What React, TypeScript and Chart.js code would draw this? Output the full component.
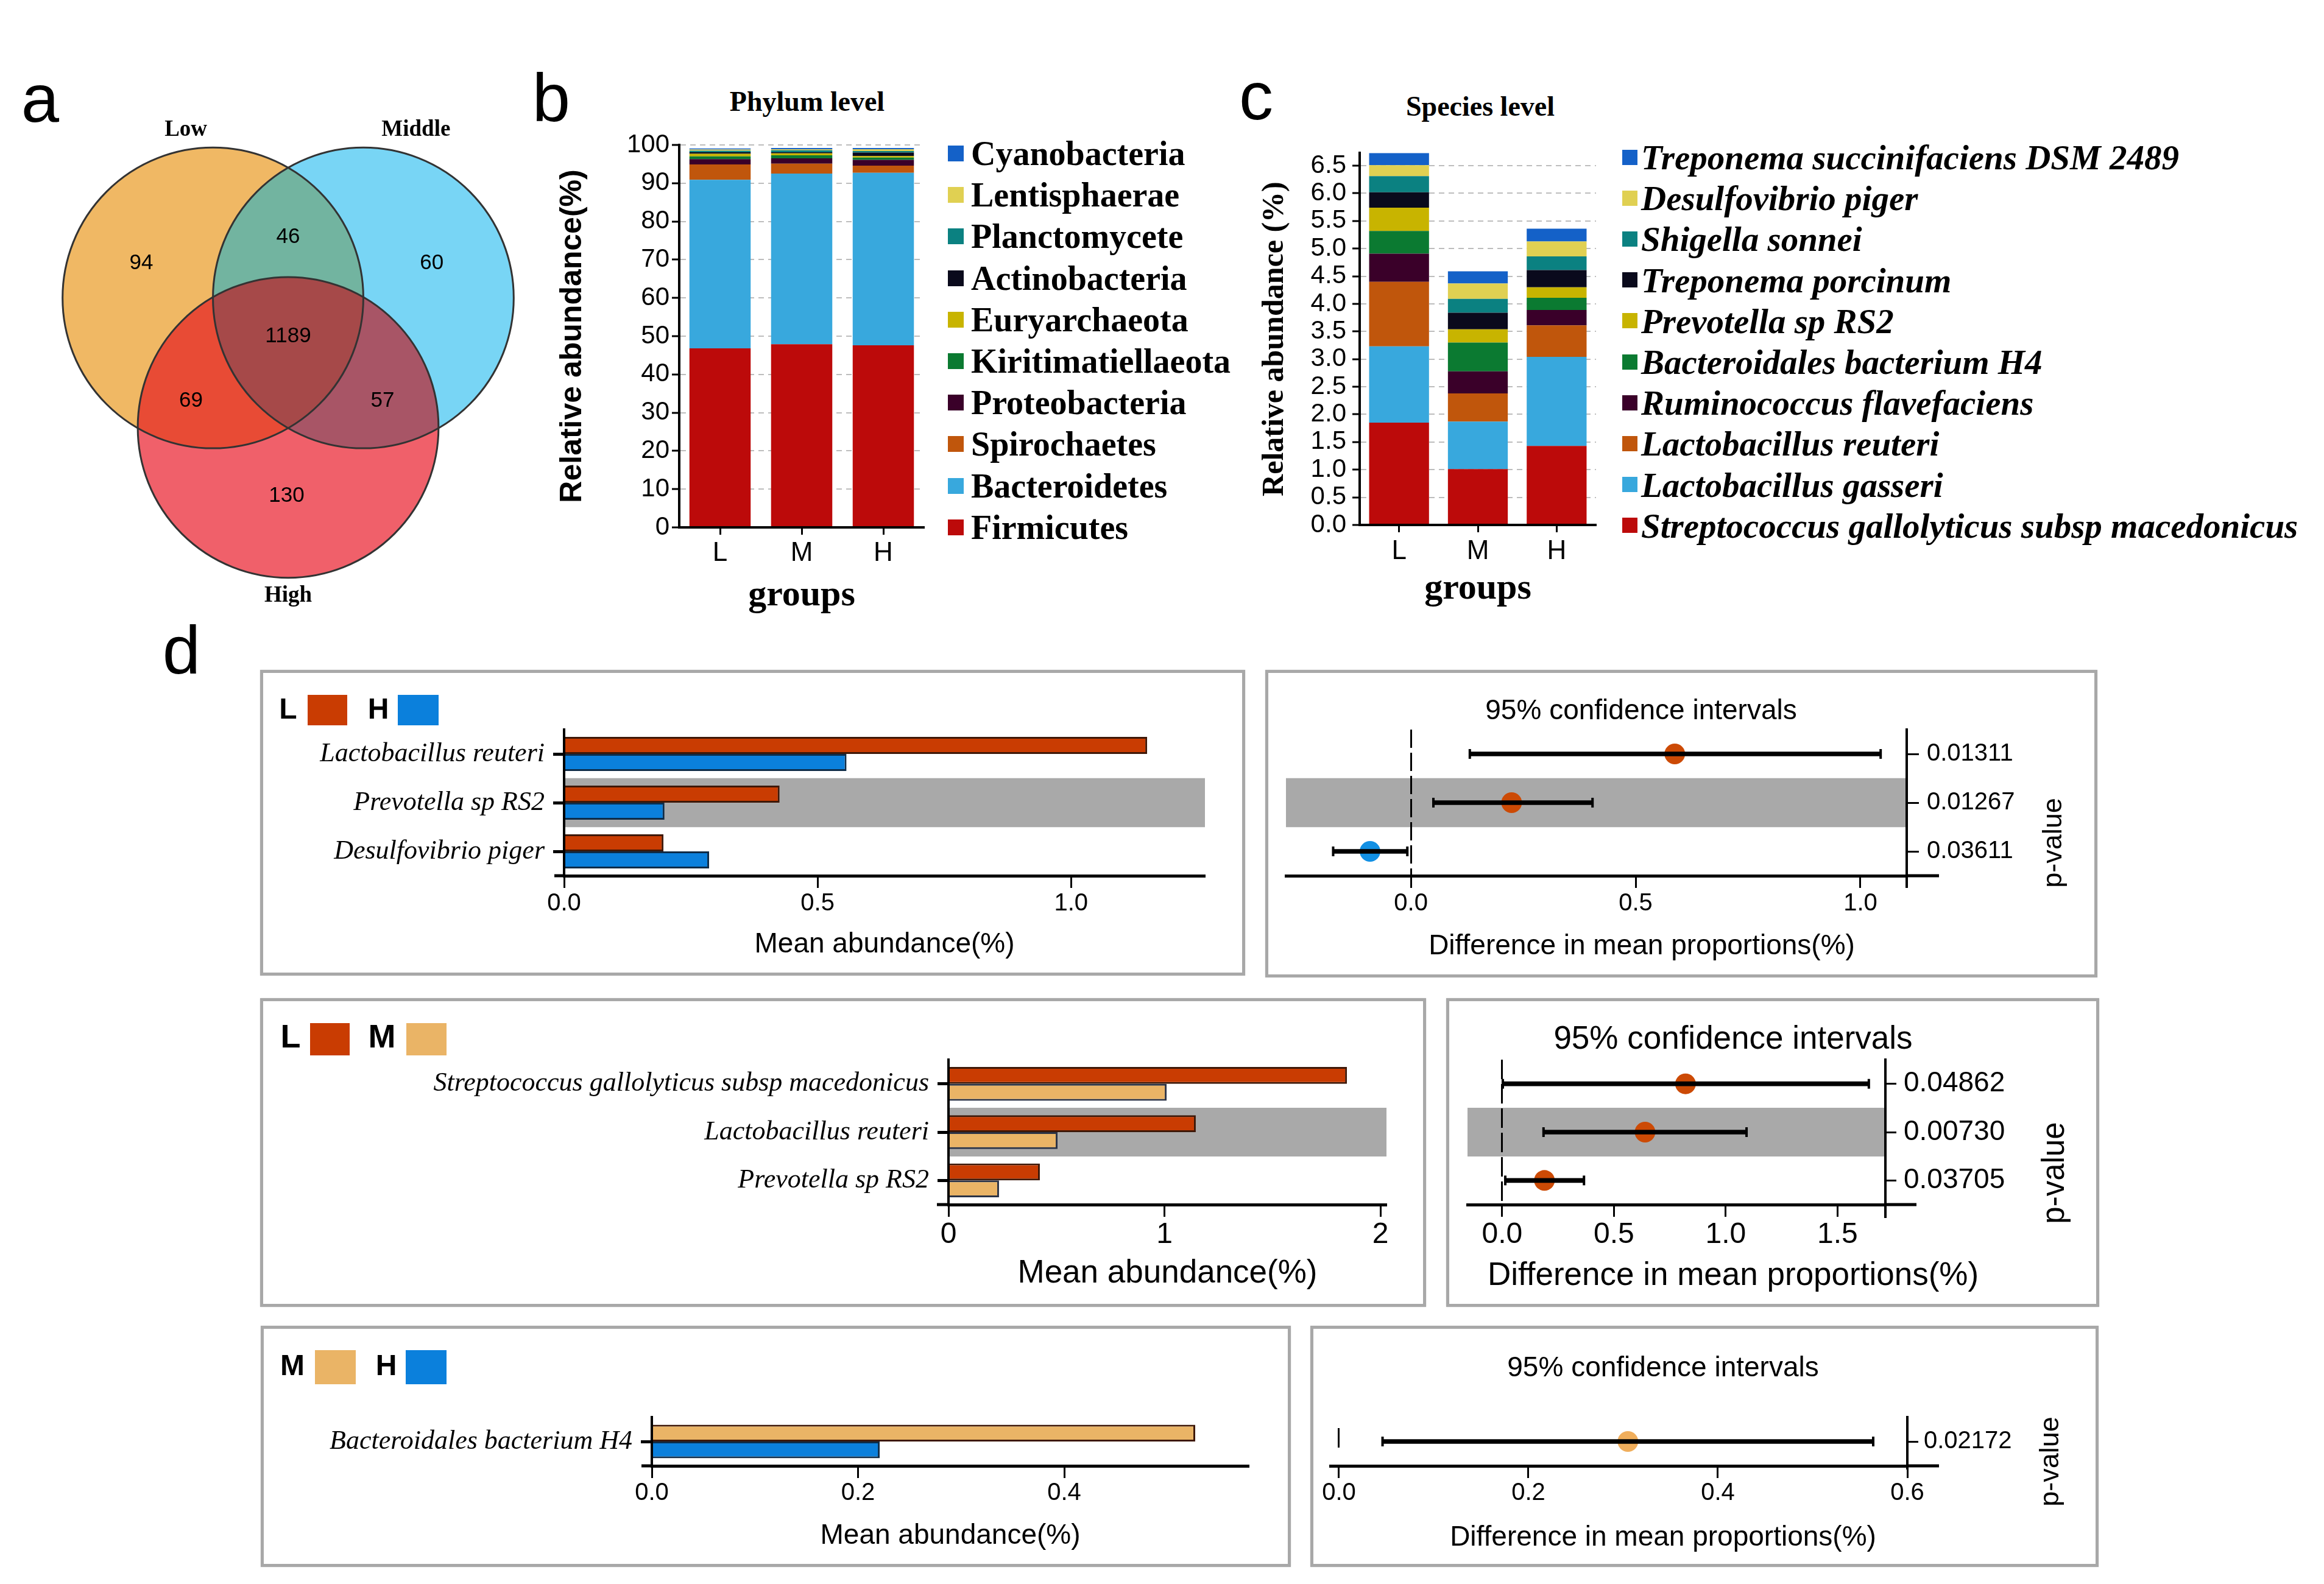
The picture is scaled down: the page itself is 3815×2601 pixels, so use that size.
import React, { useEffect, useRef } from 'react';
import { Chart, registerables } from 'chart.js';

Chart.register(...registerables);

const SANS = "'Liberation Sans', Arial, Helvetica, sans-serif";
const SERIF = "'Liberation Serif', 'Times New Roman', Times, serif";
Chart.defaults.font.family = SANS;
Chart.defaults.color = '#000';

/* ================= DATA ================= */
/* a: Venn diagram */
const vennSetNames = ['Low', 'Middle', 'High'];
const vennRegionNames = ['Low only', 'Middle only', 'High only', 'Low & Middle', 'Low & High', 'Middle & High', 'Low & Middle & High'];
const vennRegionCounts = [94, 60, 130, 46, 69, 57, 1189];

/* b: phylum level (values for L, M, H) */
const groupLabels = ['L', 'M', 'H'];
const phylumNames = ['Firmicutes', 'Bacteroidetes', 'Spirochaetes', 'Proteobacteria', 'Kiritimatiellaeota', 'Euryarchaeota', 'Actinobacteria', 'Planctomycete', 'Lentisphaerae', 'Cyanobacteria'];
const firmicutes = [46.8, 47.9, 47.6];
const bacteroidetes = [44.1, 44.6, 45.1];
const spirochaetes = [4.0, 2.6, 1.9];
const proteobacteria = [1.4, 1.4, 1.5];
const kiritimatiellaeota = [0.7, 0.8, 0.6];
const euryarchaeota = [0.7, 0.5, 0.4];
const actinobacteria = [0.4, 0.3, 0.9];
const planctomycete = [0.4, 0.5, 0.4];
const lentisphaerae = [0.3, 0.3, 0.5];
const cyanobacteria = [0.3, 0.3, 0.3];
const phylumTicks = [0, 10, 20, 30, 40, 50, 60, 70, 80, 90, 100];

/* c: species level (values for L, M, H) */
const speciesNames = ['Streptococcus gallolyticus subsp macedonicus', 'Lactobacillus gasseri', 'Lactobacillus reuteri', 'Ruminococcus flavefaciens', 'Bacteroidales bacterium H4', 'Prevotella sp RS2', 'Treponema porcinum', 'Shigella sonnei', 'Desulfovibrio piger', 'Treponema succinifaciens DSM 2489'];
const sGallolyticus = [1.85, 1.01, 1.43];
const lGasseri = [1.38, 0.86, 1.61];
const lReuteri = [1.17, 0.51, 0.57];
const rFlavefaciens = [0.51, 0.4, 0.28];
const bBacteriumH4 = [0.41, 0.52, 0.22];
const prevotellaRS2 = [0.42, 0.24, 0.19];
const tPorcinum = [0.28, 0.3, 0.31];
const sSonnei = [0.29, 0.25, 0.25];
const dPiger = [0.2, 0.28, 0.27];
const tSuccinifaciens = [0.22, 0.22, 0.23];
const speciesTicks = [0, 0.5, 1, 1.5, 2, 2.5, 3, 3.5, 4, 4.5, 5, 5.5, 6, 6.5];

/* d1: L vs H */
const d1Species = ['Lactobacillus reuteri', 'Prevotella sp RS2', 'Desulfovibrio piger'];
const d1MeanL = [1.15, 0.425, 0.196];
const d1MeanH = [0.557, 0.198, 0.286];
const d1Diff = [0.587, 0.224, -0.091];
const d1CiLow = [0.131, 0.05, -0.173];
const d1CiHigh = [1.045, 0.404, -0.008];
const d1PValues = ['0.01311', '0.01267', '0.03611'];
const d1MeanTicks = [0, 0.5, 1.0];
const d1DiffTicks = [0, 0.5, 1.0];

/* d2: L vs M */
const d2Species = ['Streptococcus gallolyticus subsp macedonicus', 'Lactobacillus reuteri', 'Prevotella sp RS2'];
const d2MeanL = [1.845, 1.145, 0.423];
const d2MeanM = [1.01, 0.505, 0.234];
const d2Diff = [0.82, 0.639, 0.189];
const d2CiLow = [0.003, 0.185, 0.014];
const d2CiHigh = [1.64, 1.093, 0.366];
const d2PValues = ['0.04862', '0.00730', '0.03705'];
const d2MeanTicks = [0, 1, 2];
const d2DiffTicks = [0, 0.5, 1.0, 1.5];

/* d3: M vs H */
const d3Species = ['Bacteroidales bacterium H4'];
const d3MeanM = [0.527];
const d3MeanH = [0.221];
const d3Diff = [0.305];
const d3CiLow = [0.046];
const d3CiHigh = [0.564];
const d3PValues = ['0.02172'];
const d3MeanTicks = [0, 0.2, 0.4];
const d3DiffTicks = [0, 0.2, 0.4, 0.6];

/* ================= STYLE / LAYOUT ================= */
const palette10 = ['#BC0A0A', '#38A8DD', '#C0560C', '#3A0029', '#0B7A31', '#C8B400', '#0A0A1C', '#0B8181', '#E0D052', '#1461C8'];
const colL = '#C93C02';
const colH = '#0B80DC';
const colM = '#EAB466';
const bordL = '#3E1808';
const bordH = '#0E2C48';
const bordM = '#2B3346';
const bandGray = '#A9A9A9';

const vennFill = ['#F0B864', '#78D5F5', '#F0606A'];
const vennPairLM = '#72B4A0';
const vennPairLH = '#E84B35';
const vennPairMH = '#A85566';
const vennAll = '#A64949';
const vennCircleLayout = [{ x: -0.5, y: 0.43 }, { x: 0.5, y: 0.43 }, { x: 0, y: -0.43 }];
const vennCountLayout = [
  { x: -0.976, y: 0.662 }, { x: 0.955, y: 0.662 }, { x: -0.01, y: -0.887 },
  { x: 0, y: 0.836 }, { x: -0.646, y: -0.256 }, { x: 0.628, y: -0.256 }, { x: 0, y: 0.176 },
];
const vennNameLayout = [{ x: -0.68, y: 1.547 }, { x: 0.85, y: 1.547 }, { x: 0, y: -1.551 }];

type Rect = { x: number; y: number; w: number; h: number };
type Plot = { l: number; t: number; r: number; b: number };

/* ================= CHART BUILDERS ================= */
function ChartCanvas({ rect, make }: { rect: Rect; make: () => any }) {
  const ref = useRef<HTMLCanvasElement | null>(null);
  useEffect(() => {
    if (!ref.current) return;
    const chart = new Chart(ref.current, make());
    return () => chart.destroy();
  }, []);
  return (
    <canvas
      ref={ref}
      width={rect.w}
      height={rect.h}
      style={{ position: 'absolute', left: rect.x, top: rect.y, width: rect.w, height: rect.h }}
    />
  );
}

function vennConfig() {
  const radiusPx = (c: any) => {
    const s = c.chart.scales.x;
    return s.getPixelForValue(1) - s.getPixelForValue(0);
  };
  const vennPlugin = {
    id: 'vennRegions',
    afterDatasetsDraw(chart: any) {
      const { ctx } = chart;
      const xs = chart.scales.x;
      const ys = chart.scales.y;
      const R = xs.getPixelForValue(1) - xs.getPixelForValue(0);
      const path = (i: number) => {
        const c = vennCircleLayout[i];
        ctx.beginPath();
        ctx.arc(xs.getPixelForValue(c.x), ys.getPixelForValue(c.y), R, 0, Math.PI * 2);
      };
      const fillIntersection = (idx: number[], color: string) => {
        ctx.save();
        idx.forEach((i) => { path(i); ctx.clip(); });
        ctx.fillStyle = color;
        ctx.fillRect(0, 0, chart.width, chart.height);
        ctx.restore();
      };
      fillIntersection([0, 1], vennPairLM);
      fillIntersection([0, 2], vennPairLH);
      fillIntersection([1, 2], vennPairMH);
      fillIntersection([0, 1, 2], vennAll);
      ctx.save();
      ctx.strokeStyle = '#333333';
      ctx.lineWidth = 3;
      [0, 1, 2].forEach((i) => { path(i); ctx.stroke(); });
      ctx.fillStyle = '#000';
      ctx.textAlign = 'center';
      ctx.textBaseline = 'middle';
      ctx.font = `35px ${SANS}`;
      vennRegionCounts.forEach((n, i) => {
        const p = vennCountLayout[i];
        ctx.fillText(String(n), xs.getPixelForValue(p.x), ys.getPixelForValue(p.y));
      });
      ctx.font = `bold 37px ${SERIF}`;
      vennSetNames.forEach((n, i) => {
        const p = vennNameLayout[i];
        ctx.fillText(n, xs.getPixelForValue(p.x), ys.getPixelForValue(p.y));
      });
      ctx.restore();
    },
  };
  return {
    type: 'scatter',
    data: {
      datasets: [{
        label: vennRegionNames.join(', '),
        data: vennCircleLayout,
        pointRadius: radiusPx,
        pointHoverRadius: radiusPx,
        pointBackgroundColor: vennFill,
        pointBorderWidth: 0,
        clip: false,
      }],
    },
    options: {
      animation: false,
      responsive: false,
      events: [],
      layout: { padding: 0 },
      plugins: { legend: { display: false }, tooltip: { enabled: false } },
      scales: {
        x: { type: 'linear', min: -1.6, max: 1.6, display: false },
        y: { type: 'linear', min: -1.75, max: 1.75, display: false },
      },
    },
    plugins: [vennPlugin],
  };
}

function stackedConfig(spec: any) {
  const { canvas, plot } = spec;
  return {
    type: 'bar',
    data: {
      labels: groupLabels,
      datasets: spec.names.map((n: string, i: number) => ({
        label: n,
        data: spec.series[i],
        backgroundColor: spec.colors[i],
        borderWidth: 0,
        barPercentage: spec.barPct,
        categoryPercentage: 1,
      })),
    },
    options: {
      animation: false,
      responsive: false,
      events: [],
      layout: { padding: { left: 0, top: plot.t - canvas.y, right: canvas.x + canvas.w - plot.r, bottom: 0 } },
      plugins: { legend: { display: false }, tooltip: { enabled: false } },
      scales: {
        x: {
          type: 'category',
          stacked: true,
          afterFit: (s: any) => { s.height = canvas.y + canvas.h - plot.b; },
          grid: { drawOnChartArea: false, offset: false, tickLength: 12, tickWidth: 3, tickColor: '#000' },
          border: { display: true, color: '#000', width: 4, z: 1 },
          ticks: { color: '#000', font: { family: SANS, size: 44 }, padding: spec.xTickPad, maxRotation: 0, autoSkip: false },
          title: { display: true, text: 'groups', color: '#000', font: { family: SERIF, size: 60, weight: 'bold' }, padding: { top: 0, bottom: spec.xTitlePad } },
        },
        y: {
          type: 'linear',
          stacked: true,
          min: 0,
          max: spec.yMax,
          afterFit: (s: any) => { s.width = plot.l - canvas.x; },
          afterBuildTicks: (s: any) => { s.ticks = spec.yTicks.map((v: number) => ({ value: v })); },
          grid: { color: '#BDBDBD', lineWidth: 2, tickLength: 12, tickWidth: 3, tickColor: '#000' },
          border: { display: true, color: '#000', width: 4, dash: [9, 7], z: 1 },
          ticks: { color: '#000', font: { family: SANS, size: 42 }, padding: spec.yTickPad, autoSkip: false, callback: (v: any) => spec.yFmt(Number(v)) },
          title: { display: true, text: spec.yTitle, color: '#000', font: spec.yTitleFont, padding: { top: spec.yTitlePad, bottom: 0 } },
        },
      },
    },
  };
}

function overhangPlugin(left: number, right: number, below: number) {
  return {
    id: 'axisOverhang',
    afterDraw(chart: any) {
      const { ctx, chartArea } = chart;
      ctx.save();
      ctx.strokeStyle = '#000';
      ctx.lineWidth = 5;
      if (left > 0) {
        ctx.beginPath();
        ctx.moveTo(chartArea.left - left, chartArea.bottom);
        ctx.lineTo(chartArea.left, chartArea.bottom);
        ctx.stroke();
      }
      if (right > 0) {
        ctx.beginPath();
        ctx.moveTo(chartArea.right, chartArea.bottom);
        ctx.lineTo(chartArea.right + right, chartArea.bottom);
        ctx.stroke();
      }
      if (below > 0) {
        ctx.lineWidth = 4;
        ctx.beginPath();
        ctx.moveTo(chartArea.right, chartArea.bottom);
        ctx.lineTo(chartArea.right, chartArea.bottom + below);
        ctx.stroke();
      }
      ctx.restore();
    },
  };
}

function meanConfig(spec: any) {
  const { canvas, plot } = spec;
  const datasets: any[] = [];
  if (spec.hl >= 0) {
    datasets.push({
      type: 'bar',
      label: 'highlight',
      data: spec.cats.map((_: string, i: number) => (i === spec.hl ? [0, spec.xMax] : null)),
      backgroundColor: bandGray,
      borderWidth: 0,
      grouped: false,
      barPercentage: 1,
      categoryPercentage: 1,
      order: 10,
    });
  }
  datasets.push({
    type: 'bar', label: spec.nameA, data: spec.a, backgroundColor: spec.colA, borderColor: spec.bordA,
    borderWidth: 3, categoryPercentage: spec.catPct, barPercentage: 1, order: 1,
  });
  datasets.push({
    type: 'bar', label: spec.nameB, data: spec.b, backgroundColor: spec.colB, borderColor: spec.bordB,
    borderWidth: 3, categoryPercentage: spec.catPct, barPercentage: 1, order: 1,
  });
  return {
    type: 'bar',
    data: { labels: spec.cats, datasets },
    options: {
      animation: false,
      responsive: false,
      events: [],
      indexAxis: 'y',
      layout: { padding: { left: 0, top: plot.t - canvas.y, right: canvas.x + canvas.w - plot.r, bottom: 0 } },
      plugins: { legend: { display: false }, tooltip: { enabled: false } },
      scales: {
        x: {
          type: 'linear',
          min: 0,
          max: spec.xMax,
          afterFit: (s: any) => { s.height = canvas.y + canvas.h - plot.b; },
          afterBuildTicks: (s: any) => { s.ticks = spec.xTicks.map((v: number) => ({ value: v })); },
          grid: { drawOnChartArea: false, tickLength: 20, tickWidth: 3, tickColor: '#000' },
          border: { display: true, color: '#000', width: 5, z: 1 },
          ticks: { color: '#000', font: { family: SANS, size: spec.tickSize }, padding: spec.tickPad, autoSkip: false, maxRotation: 0, callback: (v: any) => spec.xFmt(Number(v)) },
          title: { display: true, text: 'Mean abundance(%)', color: '#000', font: { family: SANS, size: spec.titleSize }, padding: { top: 0, bottom: spec.titlePad } },
        },
        y: {
          type: 'category',
          afterFit: (s: any) => { s.width = plot.l - canvas.x; },
          grid: { drawOnChartArea: false, offset: false, tickLength: 18, tickWidth: 5, tickColor: '#000' },
          border: { display: true, color: '#000', width: 4, z: 1 },
          ticks: { color: '#000', font: { family: SERIF, size: 44, style: 'italic' }, padding: 14, autoSkip: false },
        },
      },
    },
    plugins: [overhangPlugin(spec.leftOver, 0, 0)],
  };
}

function ciConfig(spec: any) {
  const { canvas, plot } = spec;
  const datasets: any[] = [];
  if (spec.hl >= 0) {
    datasets.push({
      type: 'bar',
      label: 'highlight',
      data: spec.pLabels.map((_: string, i: number) => (i === spec.hl ? [spec.xMin, spec.xMax] : null)),
      backgroundColor: bandGray,
      borderWidth: 0,
      grouped: false,
      barPercentage: 1,
      categoryPercentage: 1,
      order: 10,
    });
  }
  datasets.push({
    type: 'scatter',
    label: 'difference in mean proportions',
    data: spec.diff.map((d: number, i: number) => ({ x: d, y: spec.pLabels[i] })),
    pointRadius: 17,
    pointHoverRadius: 17,
    pointBackgroundColor: spec.diff.map((d: number) => (d >= 0 ? spec.colPos : spec.colNeg)),
    pointBorderWidth: 0,
    order: 5,
  });
  datasets.push({
    type: 'bar',
    label: '95% CI',
    data: spec.lo.map((l: number, i: number) => [l, spec.hi[i]]),
    backgroundColor: '#000',
    borderWidth: 0,
    barThickness: 7,
    order: 3,
  });
  datasets.push({
    type: 'scatter',
    label: '95% CI caps',
    data: [
      ...spec.lo.map((l: number, i: number) => ({ x: l, y: spec.pLabels[i] })),
      ...spec.hi.map((h: number, i: number) => ({ x: h, y: spec.pLabels[i] })),
    ],
    pointStyle: 'line',
    pointRotation: 90,
    pointRadius: 8,
    pointHoverRadius: 8,
    pointBorderWidth: 4,
    pointBorderColor: '#000',
    order: 2,
  });
  return {
    type: 'bar',
    data: { labels: spec.pLabels, datasets },
    options: {
      animation: false,
      responsive: false,
      events: [],
      indexAxis: 'y',
      layout: { padding: { left: plot.l - canvas.x, top: plot.t - canvas.y, right: 0, bottom: 0 } },
      plugins: { legend: { display: false }, tooltip: { enabled: false } },
      scales: {
        x: {
          type: 'linear',
          min: spec.xMin,
          max: spec.xMax,
          afterFit: (s: any) => { s.height = canvas.y + canvas.h - plot.b; },
          afterBuildTicks: (s: any) => { s.ticks = spec.xTicks.map((v: number) => ({ value: v })); },
          grid: {
            drawOnChartArea: true,
            color: (c: any) => (c.tick && c.tick.value === 0 ? '#000' : 'rgba(0,0,0,0)'),
            lineWidth: 3,
            tickLength: 20,
            tickWidth: 3,
            tickColor: '#000',
            z: 1,
          },
          border: { display: true, color: '#000', width: 5, dash: spec.zeroDash, z: 1 },
          ticks: { color: '#000', font: { family: SANS, size: spec.tickSize }, padding: spec.tickPad, autoSkip: false, maxRotation: 0, callback: (v: any) => Number(v).toFixed(1) },
        },
        y: {
          type: 'category',
          position: 'right',
          afterFit: (s: any) => { s.width = canvas.x + canvas.w - plot.r; },
          grid: { drawOnChartArea: false, offset: false, tickLength: spec.pTick, tickWidth: 3, tickColor: '#000' },
          border: { display: true, color: '#000', width: 4, z: 1 },
          ticks: { color: '#000', font: { family: SANS, size: spec.pSize }, padding: spec.pPad, autoSkip: false },
        },
      },
    },
    plugins: [overhangPlugin(0, spec.overRight, spec.overBelow)],
  };
}

/* ================= HTML HELPERS ================= */
function Txt(props: { x: number; y: number; size: number; family?: string; weight?: string; italic?: boolean; rotate?: number; align?: string; children: any }) {
  const { x, y, size, family = SANS, weight = 'normal', italic = false, rotate = 0, align = 'center', children } = props;
  const tx = align === 'center' ? '-50%' : align === 'left' ? '0%' : '-100%';
  return (
    <div
      style={{
        position: 'absolute', left: x, top: y,
        transform: `translate(${tx}, -50%) rotate(${rotate}deg)`,
        fontFamily: family, fontSize: size, fontWeight: weight as any, fontStyle: italic ? 'italic' : 'normal',
        lineHeight: 1, whiteSpace: 'nowrap', color: '#000',
      }}
    >
      {children}
    </div>
  );
}

function Swatch({ x, y, w, h, color }: { x: number; y: number; w: number; h: number; color: string }) {
  return <div style={{ position: 'absolute', left: x, top: y, width: w, height: h, background: color }} />;
}

function Box({ x, y, w, h }: Rect) {
  return (
    <div
      style={{
        position: 'absolute', left: x, top: y, width: w, height: h, boxSizing: 'border-box',
        border: '5px solid #A8A8A8', boxShadow: '0 0 2px rgba(0,0,0,0.15)', pointerEvents: 'none',
      }}
    />
  );
}

/* ================= APP ================= */
export default function App() {
  const phylumSeries = [firmicutes, bacteroidetes, spirochaetes, proteobacteria, kiritimatiellaeota, euryarchaeota, actinobacteria, planctomycete, lentisphaerae, cyanobacteria];
  const speciesSeries = [sGallolyticus, lGasseri, lReuteri, rFlavefaciens, bBacteriumH4, prevotellaRS2, tPorcinum, sSonnei, dPiger, tSuccinifaciens];

  const bCanvas = { x: 895, y: 208, w: 650, h: 822 };
  const bPlot = { l: 1115, t: 238, r: 1517, b: 866 };
  const cCanvas = { x: 2020, y: 216, w: 630, h: 814 };
  const cPlot = { l: 2232, t: 246, r: 2620, b: 862 };

  const r1l = { canvas: { x: 432, y: 1105, w: 1606, h: 491 }, plot: { l: 926, t: 1198, r: 1978, b: 1438 } };
  const r2l = { canvas: { x: 432, y: 1645, w: 1903, h: 495 }, plot: { l: 1557, t: 1740, r: 2276, b: 1978 } };
  const r3l = { canvas: { x: 433, y: 2182, w: 1681, h: 385 }, plot: { l: 1070, t: 2327, r: 2050, b: 2407 } };
  const r1r = { canvas: { x: 2083, y: 1105, w: 1354, h: 494 }, plot: { l: 2111, t: 1198, r: 3130, b: 1438 } };
  const r2r = { canvas: { x: 2380, y: 1645, w: 1061, h: 496 }, plot: { l: 2409, t: 1740, r: 3095, b: 1978 } };
  const r3r = { canvas: { x: 2155, y: 2182, w: 1285, h: 386 }, plot: { l: 2184, t: 2327, r: 3131, b: 2407 } };

  const phylumLegend = phylumNames.map((n, i) => ({ n, c: palette10[i] })).reverse();
  const speciesLegend = speciesNames.map((n, i) => ({ n, c: palette10[i] })).reverse();

  return (
    <div style={{ position: 'absolute', left: 0, top: 0, width: 3815, height: 2601, background: '#fff', overflow: 'hidden' }}>
      {/* panel letters */}
      <Txt x={66} y={162} size={112}>a</Txt>
      <Txt x={905} y={161} size={112}>b</Txt>
      <Txt x={2062} y={158} size={112}>c</Txt>
      <Txt x={298} y={1068} size={112}>d</Txt>

      {/* a */}
      <ChartCanvas rect={{ x: 78, y: 163, w: 790, h: 865 }} make={vennConfig} />

      {/* b */}
      <Txt x={1325} y={167} size={46} family={SERIF} weight="bold">Phylum level</Txt>
      <ChartCanvas
        rect={bCanvas}
        make={() => stackedConfig({
          canvas: bCanvas, plot: bPlot, names: phylumNames, series: phylumSeries, colors: palette10,
          yMax: 100, yTicks: phylumTicks, yFmt: (v: number) => String(v), yTitle: 'Relative abundance(%)',
          yTitleFont: { family: SANS, size: 50, weight: 'bold' }, yTitlePad: 15, xTitlePad: 16, barPct: 0.75, yTickPad: 4, xTickPad: 4,
        })}
      />
      {phylumLegend.map((it, k) => {
        const yc = 252 + k * 68.2;
        return (
          <React.Fragment key={it.n}>
            <Swatch x={1556} y={yc - 13} w={26} h={26} color={it.c} />
            <Txt x={1594} y={yc} size={56} family={SERIF} weight="bold" align="left">{it.n}</Txt>
          </React.Fragment>
        );
      })}

      {/* c */}
      <Txt x={2430} y={175} size={46} family={SERIF} weight="bold">Species level</Txt>
      <ChartCanvas
        rect={cCanvas}
        make={() => stackedConfig({
          canvas: cCanvas, plot: cPlot, names: speciesNames, series: speciesSeries, colors: palette10,
          yMax: 6.73, yTicks: speciesTicks, yFmt: (v: number) => v.toFixed(1), yTitle: 'Relative abundance (%)',
          yTitleFont: { family: SERIF, size: 50, weight: 'bold' }, yTitlePad: 43, xTitlePad: 27, barPct: 0.76, yTickPad: 10, xTickPad: 5,
        })}
      />
      {speciesLegend.map((it, k) => {
        const yc = 258 + k * 67.2;
        return (
          <React.Fragment key={it.n}>
            <Swatch x={2663} y={yc - 12.5} w={25} h={25} color={it.c} />
            <Txt x={2694} y={yc} size={57} family={SERIF} weight="bold" italic align="left">{it.n}</Txt>
          </React.Fragment>
        );
      })}

      {/* d row 1 : L vs H */}
      <ChartCanvas
        rect={r1l.canvas}
        make={() => meanConfig({
          ...r1l, cats: d1Species, a: d1MeanL, b: d1MeanH, nameA: 'L', nameB: 'H', colA: colL, colB: colH, bordA: bordL, bordB: bordH,
          hl: 1, xMax: 1.264, xTicks: d1MeanTicks, xFmt: (v: number) => v.toFixed(1), tickSize: 40, tickPad: 2, titleSize: 46, titlePad: 17, catPct: 0.7, leftOver: 16,
        })}
      />
      <ChartCanvas
        rect={r1r.canvas}
        make={() => ciConfig({
          ...r1r, pLabels: d1PValues, diff: d1Diff, lo: d1CiLow, hi: d1CiHigh, colPos: '#CC4A05', colNeg: '#1290E4',
          hl: 1, xMin: -0.278, xMax: 1.103, xTicks: d1DiffTicks, tickSize: 40, tickPad: 2, pSize: 40, pPad: 13, pTick: 20,
          zeroDash: [30, 8], overRight: 53, overBelow: 20,
        })}
      />
      <Txt x={473} y={1164} size={48} weight="bold">L</Txt>
      <Swatch x={505} y={1141} w={65} h={50} color={colL} />
      <Txt x={621} y={1164} size={48} weight="bold">H</Txt>
      <Swatch x={653} y={1141} w={67} h={50} color={colH} />
      <Txt x={2694} y={1165} size={46}>95% confidence intervals</Txt>
      <Txt x={2695} y={1551} size={46}>Difference in mean proportions(%)</Txt>
      <Txt x={3368} y={1384} size={45} rotate={-90}>p-value</Txt>

      {/* d row 2 : L vs M */}
      <ChartCanvas
        rect={r2l.canvas}
        make={() => meanConfig({
          ...r2l, cats: d2Species, a: d2MeanL, b: d2MeanM, nameA: 'L', nameB: 'M', colA: colL, colB: colM, bordA: bordL, bordB: bordM,
          hl: 1, xMax: 2.028, xTicks: d2MeanTicks, xFmt: (v: number) => String(v), tickSize: 48, tickPad: 1, titleSize: 53, titlePad: 17, catPct: 0.7, leftOver: 19,
        })}
      />
      <ChartCanvas
        rect={r2r.canvas}
        make={() => ciConfig({
          ...r2r, pLabels: d2PValues, diff: d2Diff, lo: d2CiLow, hi: d2CiHigh, colPos: '#CC4A05', colNeg: '#1290E4',
          hl: 1, xMin: -0.155, xMax: 1.714, xTicks: d2DiffTicks, tickSize: 48, tickPad: 1, pSize: 46, pPad: 12, pTick: 18,
          zeroDash: [32, 8], overRight: 51, overBelow: 22,
        })}
      />
      <Txt x={477} y={1701} size={54} weight="bold">L</Txt>
      <Swatch x={509} y={1680} w={65} h={53} color={colL} />
      <Txt x={627} y={1701} size={54} weight="bold">M</Txt>
      <Swatch x={667} y={1680} w={66} h={53} color={colM} />
      <Txt x={2845} y={1703} size={53}>95% confidence intervals</Txt>
      <Txt x={2845} y={2091} size={53}>Difference in mean proportions(%)</Txt>
      <Txt x={3370} y={1926} size={51} rotate={-90}>p-value</Txt>

      {/* d row 3 : M vs H */}
      <ChartCanvas
        rect={r3l.canvas}
        make={() => meanConfig({
          ...r3l, cats: d3Species, a: d3MeanM, b: d3MeanH, nameA: 'M', nameB: 'H', colA: colM, colB: colH, bordA: bordL, bordB: bordH,
          hl: -1, xMax: 0.579, xTicks: d3MeanTicks, xFmt: (v: number) => v.toFixed(1), tickSize: 40, tickPad: 1, titleSize: 46, titlePad: 17, catPct: 0.69, leftOver: 17,
        })}
      />
      <ChartCanvas
        rect={r3r.canvas}
        make={() => ciConfig({
          ...r3r, pLabels: d3PValues, diff: d3Diff, lo: d3CiLow, hi: d3CiHigh, colPos: '#F0AE5C', colNeg: '#1290E4',
          hl: -1, xMin: -0.009, xMax: 0.6, xTicks: d3DiffTicks, tickSize: 40, tickPad: 1, pSize: 40, pPad: 9, pTick: 18,
          zeroDash: [0, 18, 32, 400], overRight: 52, overBelow: 6,
        })}
      />
      <Txt x={480} y={2242} size={48} weight="bold">M</Txt>
      <Swatch x={517} y={2217} w={67} h={56} color={colM} />
      <Txt x={634} y={2242} size={48} weight="bold">H</Txt>
      <Swatch x={666} y={2217} w={67} h={56} color={colH} />
      <Txt x={2730} y={2244} size={46}>95% confidence intervals</Txt>
      <Txt x={2730} y={2522} size={46}>Difference in mean proportions(%)</Txt>
      <Txt x={3363} y={2400} size={45} rotate={-90}>p-value</Txt>

      {/* panel frames */}
      <Box x={427} y={1100} w={1617} h={502} />
      <Box x={2077} y={1100} w={1366} h={505} />
      <Box x={427} y={1639} w={1914} h={507} />
      <Box x={2374} y={1639} w={1072} h={507} />
      <Box x={428} y={2177} w={1691} h={396} />
      <Box x={2151} y={2177} w={1294} h={396} />
    </div>
  );
}
